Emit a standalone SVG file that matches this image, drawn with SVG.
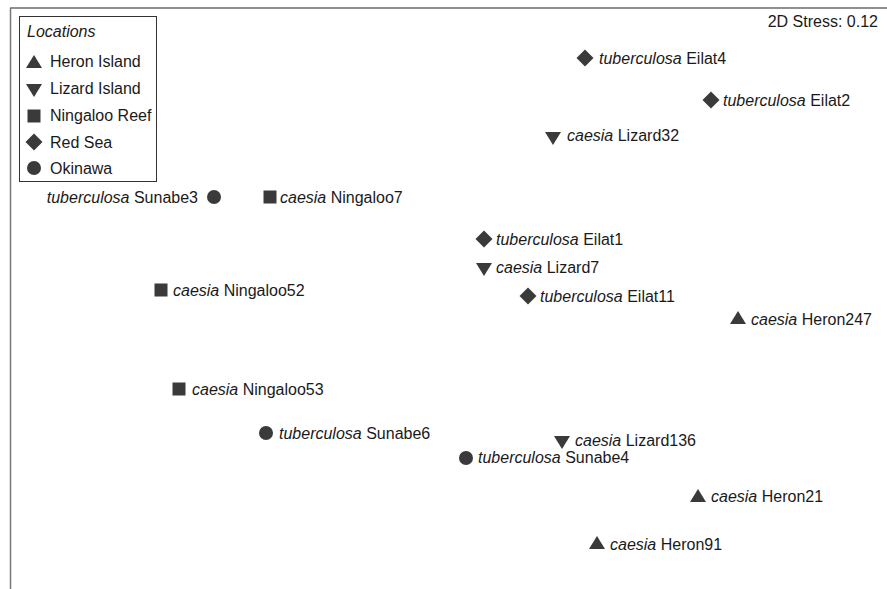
<svg xmlns="http://www.w3.org/2000/svg" width="887" height="589" viewBox="0 0 887 589">
<style>
text{font-family:"Liberation Sans",Arial,sans-serif;font-size:16px;fill:#1a1a1a}
.i{font-style:italic}
.s{fill:#3a3a3a}
.frame{stroke:#777;stroke-width:1.5;fill:none}
.top{stroke:#222;stroke-width:1.2}
</style>
<defs>
<path id="up" class="s" d="M0,-7 L8,6 L-8,6 Z"/>
<path id="dn" class="s" d="M0,7 L8,-6 L-8,-6 Z"/>
<rect id="sq" class="s" x="-6.5" y="-6.5" width="13" height="13"/>
<path id="di" class="s" d="M0,-8.5 L8.5,0 L0,8.5 L-8.5,0 Z"/>
<circle id="ci" class="s" r="7"/>
</defs>
<rect width="887" height="589" fill="#fff"/>
<g id="axes">
<line class="top" x1="10" y1="8" x2="887" y2="8"/>
<line class="frame" x1="10.5" y1="8" x2="10.5" y2="589"/>
</g>
<text x="878" y="27" text-anchor="end">2D Stress: 0.12</text>
<g id="legend">
<rect x="19.5" y="16.5" width="137" height="165" fill="#fff" stroke="#333" stroke-width="1"/>
<text x="27" y="37" class="i">Locations</text>
<use href="#up" x="34" y="62"/><text x="50" y="67">Heron Island</text>
<use href="#dn" x="34" y="90"/><text x="50" y="94">Lizard Island</text>
<use href="#sq" x="34" y="116"/><text x="50" y="121">Ningaloo Reef</text>
<use href="#di" x="34" y="142"/><text x="50" y="148">Red Sea</text>
<use href="#ci" x="34" y="168"/><text x="50" y="174">Okinawa</text>
</g>
<g id="p-eilat4"><use href="#di" x="585" y="58"/><text x="599" y="64"><tspan class="i">tuberculosa</tspan> Eilat4</text></g>
<g id="p-eilat2"><use href="#di" x="711" y="100"/><text x="723" y="106"><tspan class="i">tuberculosa</tspan> Eilat2</text></g>
<g id="p-lizard32"><use href="#dn" x="553" y="138"/><text x="567" y="141"><tspan class="i">caesia</tspan> Lizard32</text></g>
<g id="p-sunabe3"><text x="198" y="203" text-anchor="end"><tspan class="i">tuberculosa</tspan> Sunabe3</text><use href="#ci" x="214" y="197"/></g>
<g id="p-ningaloo7"><use href="#sq" x="270" y="197"/><text x="280" y="203"><tspan class="i">caesia</tspan> Ningaloo7</text></g>
<g id="p-eilat1"><use href="#di" x="484" y="239"/><text x="496" y="245"><tspan class="i">tuberculosa</tspan> Eilat1</text></g>
<g id="p-lizard7"><use href="#dn" x="484" y="269"/><text x="496" y="273"><tspan class="i">caesia</tspan> Lizard7</text></g>
<g id="p-eilat11"><use href="#di" x="528" y="296"/><text x="540" y="302"><tspan class="i">tuberculosa</tspan> Eilat11</text></g>
<g id="p-heron247"><use href="#up" x="738" y="318"/><text x="751" y="325"><tspan class="i">caesia</tspan> Heron247</text></g>
<g id="p-ningaloo52"><use href="#sq" x="161" y="290"/><text x="173" y="296"><tspan class="i">caesia</tspan> Ningaloo52</text></g>
<g id="p-ningaloo53"><use href="#sq" x="179" y="389"/><text x="192" y="395"><tspan class="i">caesia</tspan> Ningaloo53</text></g>
<g id="p-sunabe6"><use href="#ci" x="266" y="433"/><text x="279" y="439"><tspan class="i">tuberculosa</tspan> Sunabe6</text></g>
<g id="p-lizard136"><use href="#dn" x="562" y="442"/><text x="575" y="446"><tspan class="i">caesia</tspan> Lizard136</text></g>
<g id="p-sunabe4"><use href="#ci" x="466" y="458"/><text x="478" y="463"><tspan class="i">tuberculosa</tspan> Sunabe4</text></g>
<g id="p-heron21"><use href="#up" x="698" y="496"/><text x="711" y="502"><tspan class="i">caesia</tspan> Heron21</text></g>
<g id="p-heron91"><use href="#up" x="597" y="543"/><text x="610" y="550"><tspan class="i">caesia</tspan> Heron91</text></g>
</svg>
